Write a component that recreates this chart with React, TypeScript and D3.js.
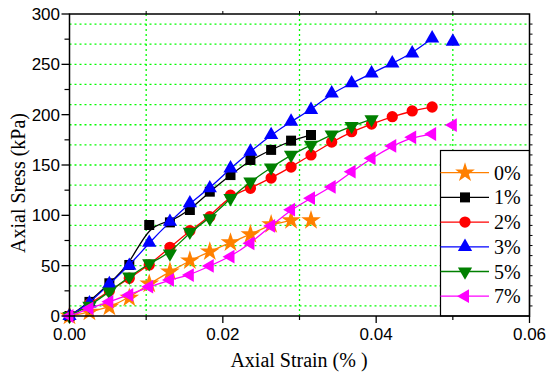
import React from "react";
import * as d3 from "d3";

// ---- data ----
const strainSteps = [0, 0.0026, 0.0052, 0.0078, 0.0104, 0.0131, 0.0157, 0.0183, 0.021, 0.0236, 0.0263, 0.0289, 0.0315, 0.0342, 0.0368, 0.0394, 0.0421, 0.0447, 0.0473, 0.05];
const seriesNames = ["0%", "1%", "2%", "3%", "5%", "7%"];
const stress0 = [0, 4, 9, 18, 32, 44, 55, 64, 73, 81, 91, 95, 95];
const stress1 = [0, 14, 32.5, 50.7, 90.4, 93, 105.3, 123.5, 140, 155, 165, 174.2, 179.8];
const stress2 = [0, 12, 25, 37.5, 50.7, 68.2, 84.7, 98.6, 120, 126.9, 137, 148, 160, 172.8, 183.1, 190.7, 198, 203.7, 207.6];
const stress3 = [0, 12.6, 31.8, 50, 72.8, 93.7, 112, 127, 146.7, 163.4, 179.8, 193.2, 204.8, 221.2, 231.2, 241.1, 251, 261, 275.9, 272.6];
const stress5 = [0, 10, 24.1, 39, 52.3, 62, 83.7, 97, 117, 133.4, 147.5, 160, 169.9, 180.3, 188.7, 195.4];
const stress7 = [0, 7.6, 14.2, 20.9, 29.1, 35.8, 40.7, 49.7, 58.9, 72.2, 89.5, 105.6, 117, 128.2, 143.4, 156.7, 168.9, 177.5, 180.8, 189.7];
// number of leading points joined by the curve
const joined = [12, 13, 19, 19, 16, 19];
const xTicks = [0, 0.02, 0.04, 0.06];
const yTicks = [0, 50, 100, 150, 200, 250, 300];

const colors = ["#FF8000", "#000000", "#FF0000", "#0000FF", "#008000", "#FF00FF"];
const shapes = ["star", "square", "circle", "up", "down", "left"];
const allStress = [stress0, stress1, stress2, stress3, stress5, stress7];
const drawOrder = [0, 1, 2, 3, 4, 5];

const W = 547, H = 375;
const L = 69.5, R = 529.5, T = 14, B = 316;

function markerPath(shape: string): { d: string; rot: number } {
  switch (shape) {
    case "star": return { d: d3.symbol(d3.symbolStar, 120)() as string, rot: 0 };
    case "square": return { d: d3.symbol(d3.symbolSquare, 100)() as string, rot: 0 };
    case "circle": return { d: d3.symbol(d3.symbolCircle, 100)() as string, rot: 0 };
    case "up": return { d: d3.symbol(d3.symbolTriangle, 88)() as string, rot: 0 };
    case "down": return { d: d3.symbol(d3.symbolTriangle, 88)() as string, rot: 180 };
    default: return { d: d3.symbol(d3.symbolTriangle, 82)() as string, rot: -90 };
  }
}

export default function App() {
  const x = d3.scaleLinear().domain([0, 0.06]).range([L, R]);
  const y = d3.scaleLinear().domain([0, 300]).range([B, T]);
  const line = d3.line<[number, number]>().x(d => x(d[0])).y(d => y(d[1])).curve(d3.curveBasis);

  const hGrid = d3.range(10, 300, 20);
  const vGrid = [0.01, 0.03, 0.05];
  const yMinor = d3.range(25, 300, 50);
  const xMinor = [0.01, 0.03, 0.05];
  const rightTicks = d3.range(10, 300, 10);
  const topTicks = d3.range(0.01, 0.06, 0.01);

  const tickFont = "'Liberation Sans', Arial, sans-serif";
  const serif = "'Liberation Serif', 'Times New Roman', serif";

  const legX = 440.5, legY = 150.5, legRowH = 24.7, legFirst = 172.7;

  return (
    <svg width={W} height={H} style={{ position: "absolute", left: 0, top: 0, background: "#fff" }}>
      <rect x={0} y={0} width={W} height={H} fill="#fff" />
      {/* grid */}
      {hGrid.map(v => (
        <line key={"h" + v} x1={L} x2={R} y1={y(v)} y2={y(v)} stroke="#00FF00" strokeWidth={1.3} strokeDasharray="2,3" />
      ))}
      {vGrid.map(v => (
        <line key={"v" + v} x1={x(v)} x2={x(v)} y1={T} y2={B} stroke="#00FF00" strokeWidth={1.3} strokeDasharray="2,3" />
      ))}
      {/* series */}
      {drawOrder.map(i => {
        const pts: [number, number][] = allStress[i].map((s, k) => [strainSteps[k], s]);
        const m = markerPath(shapes[i]);
        return (
          <g key={"s" + i}>
            <path d={line(pts.slice(0, joined[i])) as string} fill="none" stroke={colors[i]} strokeWidth={1.3} />
            {pts.map((p, k) => (
              <path key={k} d={m.d} fill={colors[i]}
                transform={`translate(${x(p[0])},${y(p[1])}) rotate(${m.rot})`} />
            ))}
          </g>
        );
      })}
      {/* legend */}
      <rect x={legX} y={legY} width={R - legX} height={B - legY} fill="#fff" stroke="#000" strokeWidth={1.2} />
      {seriesNames.map((name, i) => {
        const cy = legFirst + i * legRowH;
        const m = markerPath(shapes[i]);
        return (
          <g key={"l" + i}>
            <line x1={legX} x2={489} y1={cy} y2={cy} stroke={colors[i]} strokeWidth={1.3} />
            <path d={m.d} fill={colors[i]} transform={`translate(465,${cy}) rotate(${m.rot})`} />
            <text x={494} y={cy + 7} fontFamily={serif} fontSize={20} fill="#000">{name}</text>
          </g>
        );
      })}
      {/* frame */}
      <rect x={L} y={T} width={R - L} height={B - T} fill="none" stroke="#000" strokeWidth={1.5} />
      {/* left axis ticks */}
      {yTicks.map(v => (
        <g key={"yt" + v}>
          <line x1={L - 8} x2={L} y1={y(v)} y2={y(v)} stroke="#000" strokeWidth={1.3} />
          <text x={60} y={y(v)} dy="0.36em" textAnchor="end" fontFamily={tickFont} fontSize={17} fill="#000">{v}</text>
        </g>
      ))}
      {yMinor.map(v => (
        <line key={"ym" + v} x1={L - 5} x2={L} y1={y(v)} y2={y(v)} stroke="#000" strokeWidth={1.2} />
      ))}
      {/* right axis ticks */}
      {rightTicks.map(v => (
        <line key={"rt" + v} x1={R} x2={R + 3} y1={y(v)} y2={y(v)} stroke="#000" strokeWidth={1} />
      ))}
      {/* top ticks */}
      {topTicks.map(v => (
        <line key={"tt" + v} x1={x(v)} x2={x(v)} y1={T} y2={T - 3} stroke="#000" strokeWidth={1} />
      ))}
      {/* bottom ticks */}
      {xTicks.map(v => (
        <g key={"xt" + v}>
          <line x1={x(v)} x2={x(v)} y1={B} y2={B + 7} stroke="#000" strokeWidth={1.3} />
          <text x={x(v)} y={340} textAnchor="middle" fontFamily={tickFont} fontSize={17} fill="#000">{d3.format(".2f")(v)}</text>
        </g>
      ))}
      {xMinor.map(v => (
        <line key={"xm" + v} x1={x(v)} x2={x(v)} y1={B} y2={B + 4} stroke="#000" strokeWidth={1.2} />
      ))}
      {/* titles */}
      <text x={299} y={367} textAnchor="middle" fontFamily={serif} fontSize={20} fill="#000">Axial Strain (% )</text>
      <text transform="translate(25,183) rotate(-90)" textAnchor="middle" fontFamily={serif} fontSize={20} fill="#000">Axial Sress (kPa)</text>
    </svg>
  );
}
